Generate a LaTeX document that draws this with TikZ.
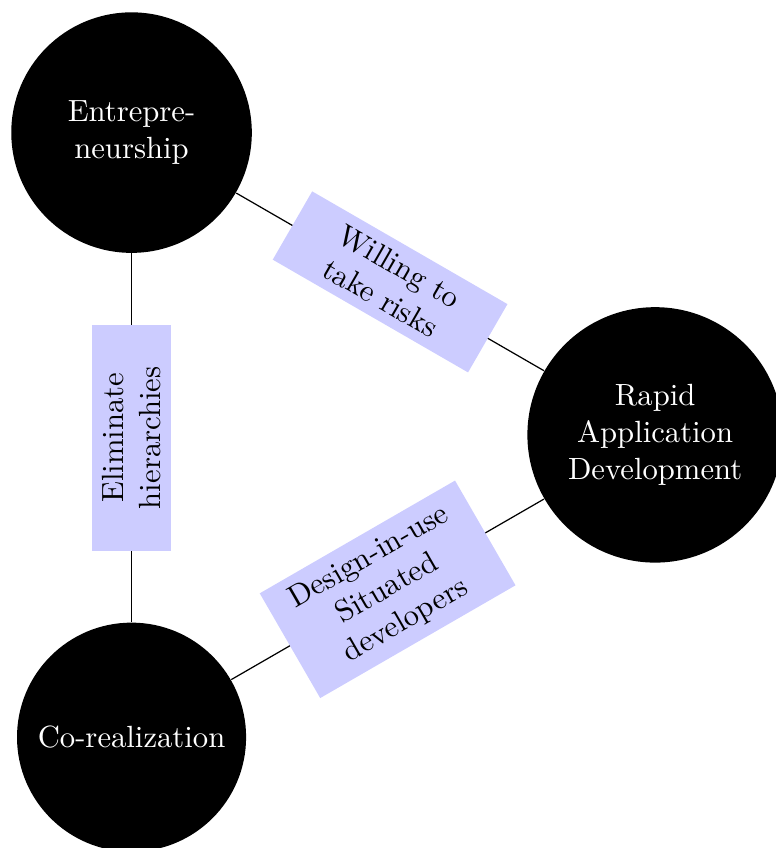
\documentclass[tikz,border=0pt]{standalone}
\usepackage{tikz}
\usetikzlibrary{calc}

\begin{document}
\begin{tikzpicture}[
    concept/.style={circle,fill=black,text=white,text width=2.35cm,align=center},
    link/.style={fill=blue!20,text width=2.35cm,align=center,sloped}]
  \useasboundingbox (-99.8pt,-134.7pt) rectangle (152.9pt,141.8pt);
  \node[concept] (ent) at (120:4cm) {Entrepre-\\neurship};
  \node[concept] (rad) at (0:4cm) {Rapid\\Application\\Development};
  \node[concept] (cor) at (240:4cm) {Co-realization};
  \path
%     three sides of the triangle
     (cor) edge node [link] (elim) {Eliminate\\hierarchies} (ent)
     (ent) edge node [link] (risk) {Willing to\\take risks} (rad)
     (cor) edge node [link] (situ) {Design-in-use\\Situated\\developers} (rad);
\end{tikzpicture}
\end{document}
